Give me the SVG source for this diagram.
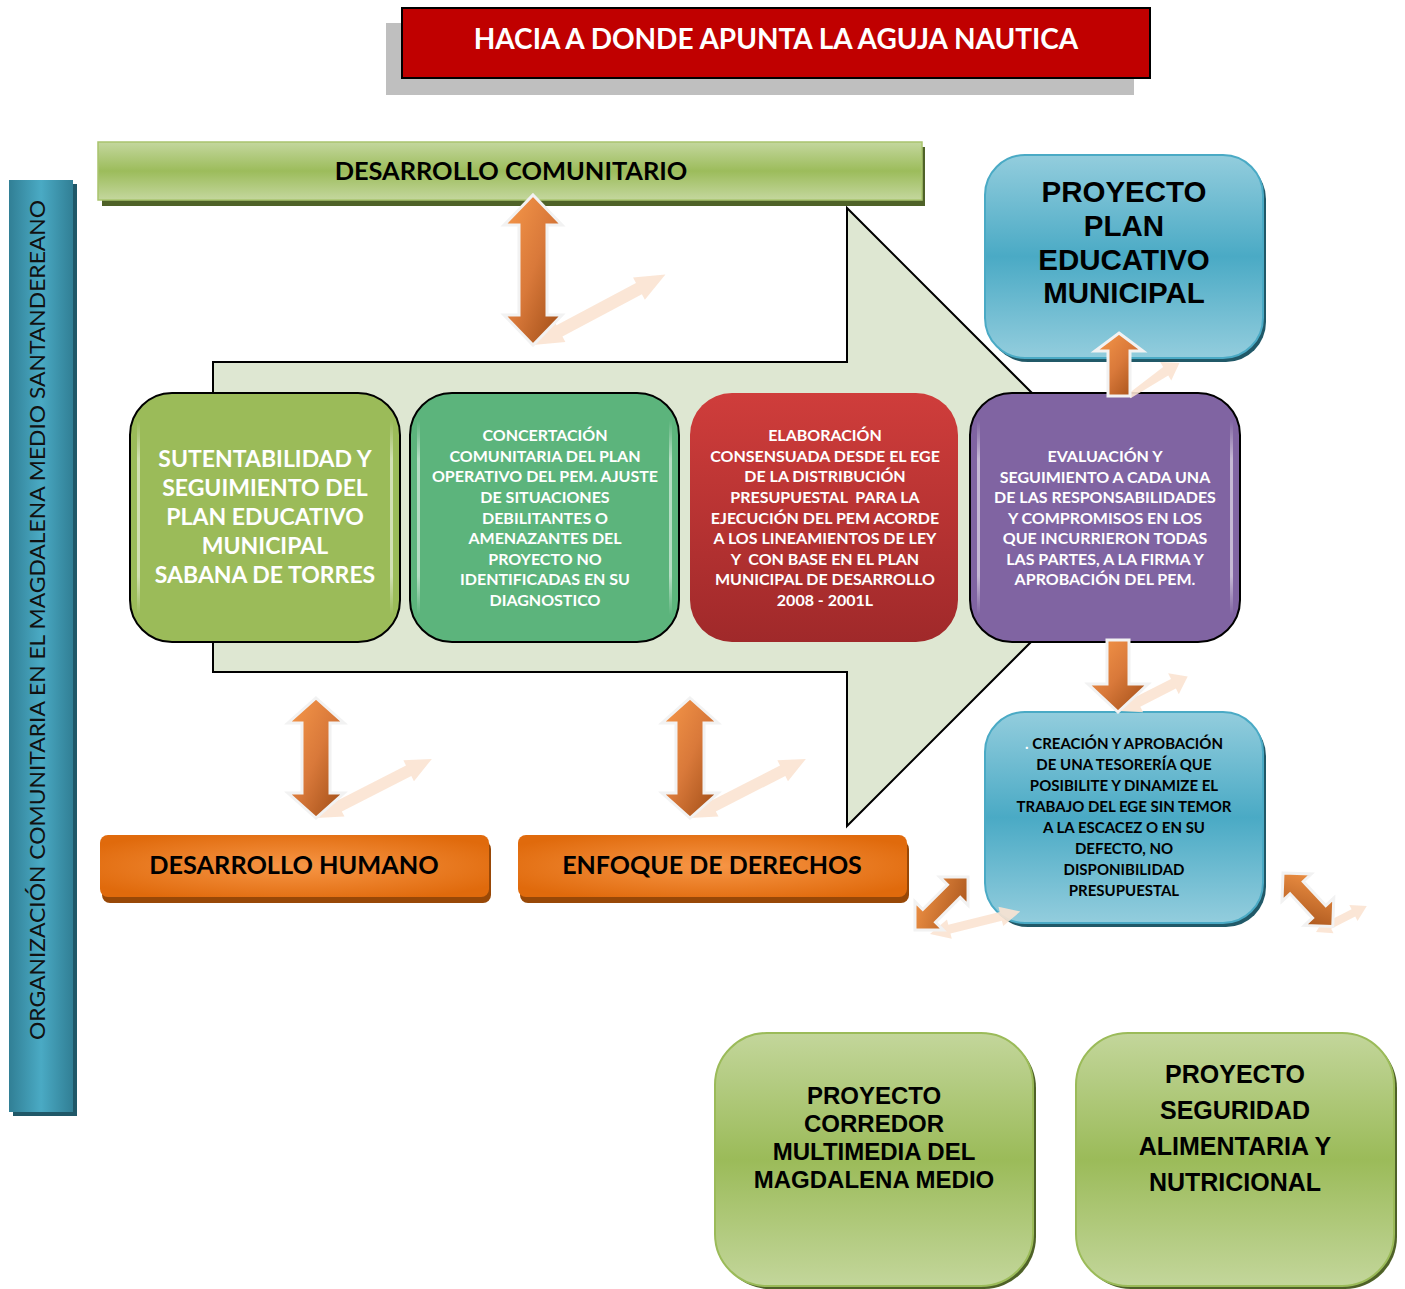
<svg xmlns="http://www.w3.org/2000/svg" width="1405" height="1289" viewBox="0 0 1405 1289">
<defs>
<style>
.c{font-family:Lato,"Open Sans","Liberation Sans",sans-serif;font-weight:bold;text-anchor:middle}
.a{font-family:"Liberation Sans",Arial,sans-serif;font-weight:bold;text-anchor:middle}
.w{fill:#ffffff}
.k{fill:#000000}
.arr{fill:url(#gArr);stroke:#f2f2f2;stroke-width:3;stroke-linejoin:miter}
.arrV{fill:url(#gArrV);stroke:#f2f2f2;stroke-width:3}
.sh{fill:#fbe3d2;opacity:0.9}
.hl{fill:url(#gHl)}
</style>
<linearGradient id="gArr" x1="0" y1="0" x2="1" y2="1"><stop offset="0" stop-color="#f8994a"/><stop offset="1" stop-color="#a24f18"/></linearGradient>
<linearGradient id="gArrV" x1="0" y1="0" x2="1" y2="1"><stop offset="0" stop-color="#f8994a"/><stop offset="0.5" stop-color="#d9793a"/><stop offset="1" stop-color="#9c4a14"/></linearGradient>
<linearGradient id="gHl" x1="0" y1="0" x2="0" y2="1"><stop offset="0" stop-color="#fff" stop-opacity="0"/><stop offset="0.2" stop-color="#fff" stop-opacity="0.55"/><stop offset="0.8" stop-color="#fff" stop-opacity="0.55"/><stop offset="1" stop-color="#fff" stop-opacity="0"/></linearGradient>
<linearGradient id="gGreenBar" x1="0" y1="0" x2="0" y2="1"><stop offset="0" stop-color="#c4d79e"/><stop offset="0.5" stop-color="#9cbc5b"/><stop offset="1" stop-color="#c4d79e"/></linearGradient>
<linearGradient id="gProj" x1="0" y1="0" x2="0" y2="1"><stop offset="0" stop-color="#c3d69b"/><stop offset="0.5" stop-color="#9bbb59"/><stop offset="1" stop-color="#c3d69b"/></linearGradient>
<linearGradient id="gBlue" x1="0" y1="0" x2="0" y2="1"><stop offset="0" stop-color="#93cddd"/><stop offset="0.5" stop-color="#4aaac5"/><stop offset="1" stop-color="#93cddd"/></linearGradient>
<linearGradient id="gTeal" x1="0" y1="0" x2="1" y2="0"><stop offset="0" stop-color="#317f95"/><stop offset="0.5" stop-color="#4aaac4"/><stop offset="1" stop-color="#317f95"/></linearGradient>
<radialGradient id="gOrange" cx="0.5" cy="0.5" r="0.6"><stop offset="0" stop-color="#f79646"/><stop offset="1" stop-color="#e06a0c"/></radialGradient>
<linearGradient id="gRed" x1="0" y1="0" x2="0" y2="1"><stop offset="0" stop-color="#cf3d3b"/><stop offset="1" stop-color="#a0292a"/></linearGradient>
</defs>
<rect x="0" y="0" width="1405" height="1289" fill="#ffffff"/>

<g id="title">
<rect x="386" y="23" width="748" height="72" fill="#bfbfbf"/>
<rect x="402" y="8" width="748" height="70" fill="#c00000" stroke="#000" stroke-width="2"/>
<text class="c w" x="776" y="49" font-size="28">HACIA A DONDE APUNTA LA AGUJA NAUTICA</text>
</g>

<g id="organizacion">
<rect x="13" y="184" width="64" height="932" fill="#205868"/>
<rect x="9" y="180" width="64" height="932" fill="url(#gTeal)"/>
<text class="c" x="45" y="620" font-size="22" style="font-weight:normal" fill="#111" transform="rotate(-90 45 620)" textLength="840" lengthAdjust="spacingAndGlyphs">ORGANIZACIÓN COMUNITARIA EN EL MAGDALENA MEDIO SANTANDEREANO</text>
</g>

<g id="desarrollo-comunitario">
<rect x="102" y="147" width="823" height="59" fill="#4f6228"/>
<rect x="98" y="142" width="824" height="58" fill="url(#gGreenBar)" stroke="#a9c46e" stroke-width="1.5"/>
<text class="c k" x="511" y="180" font-size="25.4">DESARROLLO COMUNITARIO</text>
</g>

<g id="flecha-principal">
<polygon points="213,362 847,362 847,208 1156,517 847,826 847,672 213,672" fill="#dee7d2" stroke="#000" stroke-width="2"/>
</g>

<g id="sutentabilidad">
<rect x="130" y="393" width="270" height="249" rx="42" fill="#9bbb59" stroke="#000" stroke-width="2"/>
<rect class="hl" x="137" y="420" width="3" height="195"/>
<rect class="hl" x="390" y="420" width="3" height="195"/>
<text class="c w" font-size="23"><tspan x="265" y="467">SUTENTABILIDAD Y</tspan><tspan x="265" y="496">SEGUIMIENTO DEL</tspan><tspan x="265" y="525">PLAN EDUCATIVO</tspan><tspan x="265" y="554">MUNICIPAL</tspan><tspan x="265" y="583">SABANA DE TORRES</tspan></text>
</g>

<g id="concertacion">
<rect x="410" y="393" width="269" height="249" rx="42" fill="#5cb47c" stroke="#000" stroke-width="2"/>
<rect class="hl" x="417" y="420" width="3" height="195"/>
<rect class="hl" x="669" y="420" width="3" height="195"/>
<text class="c w" font-size="16"><tspan x="545" y="441">CONCERTACIÓN</tspan><tspan x="545" y="462">COMUNITARIA DEL PLAN</tspan><tspan x="545" y="482">OPERATIVO DEL PEM. AJUSTE</tspan><tspan x="545" y="503">DE SITUACIONES</tspan><tspan x="545" y="524">DEBILITANTES O</tspan><tspan x="545" y="544">AMENAZANTES DEL</tspan><tspan x="545" y="565">PROYECTO NO</tspan><tspan x="545" y="585">IDENTIFICADAS EN SU</tspan><tspan x="545" y="606">DIAGNOSTICO</tspan></text>
</g>

<g id="elaboracion">
<rect x="690" y="393" width="268" height="249" rx="42" fill="url(#gRed)"/>
<text class="c w" font-size="16" xml:space="preserve"><tspan x="825" y="441">ELABORACIÓN</tspan><tspan x="825" y="462">CONSENSUADA DESDE EL EGE</tspan><tspan x="825" y="482">DE LA DISTRIBUCIÓN</tspan><tspan x="825" y="503">PRESUPUESTAL  PARA LA</tspan><tspan x="825" y="524">EJECUCIÓN DEL PEM ACORDE</tspan><tspan x="825" y="544">A LOS LINEAMIENTOS DE LEY</tspan><tspan x="825" y="565">Y  CON BASE EN EL PLAN</tspan><tspan x="825" y="585">MUNICIPAL DE DESARROLLO</tspan><tspan x="825" y="606">2008 - 2001L</tspan></text>
</g>

<g id="evaluacion">
<rect x="970" y="393" width="270" height="249" rx="42" fill="#8064a2" stroke="#000" stroke-width="2"/>
<rect class="hl" x="977" y="420" width="3" height="195"/>
<rect class="hl" x="1230" y="420" width="3" height="195"/>
<text class="c w" font-size="16"><tspan x="1105" y="462">EVALUACIÓN Y</tspan><tspan x="1105" y="483">SEGUIMIENTO A CADA UNA</tspan><tspan x="1105" y="503">DE LAS RESPONSABILIDADES</tspan><tspan x="1105" y="524">Y COMPROMISOS EN LOS</tspan><tspan x="1105" y="544">QUE INCURRIERON TODAS</tspan><tspan x="1105" y="565">LAS PARTES, A LA FIRMA Y</tspan><tspan x="1105" y="585">APROBACIÓN DEL PEM.</tspan></text>
</g>

<g id="pem">
<rect x="988" y="159" width="278" height="203" rx="40" fill="#215968"/>
<rect x="985" y="155" width="278" height="203" rx="40" fill="url(#gBlue)" stroke="#4aaac5" stroke-width="2"/>
<text class="a k" font-size="29.5"><tspan x="1124" y="202">PROYECTO</tspan><tspan x="1124" y="236">PLAN</tspan><tspan x="1124" y="270">EDUCATIVO</tspan><tspan x="1124" y="303">MUNICIPAL</tspan></text>
</g>

<g id="tesoreria">
<rect x="988" y="716" width="278" height="211" rx="40" fill="#215968"/>
<rect x="985" y="712" width="278" height="211" rx="40" fill="url(#gBlue)" stroke="#4aaac5" stroke-width="2"/>
<text class="c k" font-size="15"><tspan x="1124" y="749"><tspan fill="#fff">.</tspan> CREACIÓN Y APROBACIÓN</tspan><tspan x="1124" y="770">DE UNA TESORERÍA QUE</tspan><tspan x="1124" y="791">POSIBILITE Y DINAMIZE EL</tspan><tspan x="1124" y="812">TRABAJO DEL EGE SIN TEMOR</tspan><tspan x="1124" y="833">A LA ESCACEZ O EN SU</tspan><tspan x="1124" y="854">DEFECTO, NO</tspan><tspan x="1124" y="875">DISPONIBILIDAD</tspan><tspan x="1124" y="896">PRESUPUESTAL</tspan></text>
</g>

<g id="desarrollo-humano">
<rect x="102" y="841" width="389" height="62" rx="8" fill="#984807"/>
<rect x="100" y="835" width="389" height="62" rx="8" fill="url(#gOrange)"/>
<text class="c k" x="294" y="874" font-size="25.3">DESARROLLO HUMANO</text>
</g>

<g id="enfoque-derechos">
<rect x="520" y="841" width="389" height="62" rx="8" fill="#984807"/>
<rect x="518" y="835" width="389" height="62" rx="8" fill="url(#gOrange)"/>
<text class="c k" x="712" y="874" font-size="25">ENFOQUE DE DERECHOS</text>
</g>

<g id="corredor-multimedia">
<rect x="718" y="1036" width="318" height="253" rx="52" fill="#4f6228"/>
<rect x="715" y="1033" width="318" height="253" rx="52" fill="url(#gProj)" stroke="#9bbb59" stroke-width="2"/>
<text class="a k" font-size="24"><tspan x="874" y="1104">PROYECTO</tspan><tspan x="874" y="1132">CORREDOR</tspan><tspan x="874" y="1160">MULTIMEDIA DEL</tspan><tspan x="874" y="1188">MAGDALENA MEDIO</tspan></text>
</g>

<g id="seguridad-alimentaria">
<rect x="1079" y="1036" width="318" height="253" rx="52" fill="#4f6228"/>
<rect x="1076" y="1033" width="318" height="253" rx="52" fill="url(#gProj)" stroke="#9bbb59" stroke-width="2"/>
<text class="a k" font-size="25"><tspan x="1235" y="1083">PROYECTO</tspan><tspan x="1235" y="1119">SEGURIDAD</tspan><tspan x="1235" y="1155">ALIMENTARIA Y</tspan><tspan x="1235" y="1191">NUTRICIONAL</tspan></text>
</g>

<g id="connectors">
<polygon class="sh" transform="translate(533,345) rotate(-28) scale(1,0.45)" points="0,0 30,-28 30,-14 120,-14 120,-28 150,0 120,28 120,14 30,14 30,28"/>
<polygon class="sh" transform="translate(316,818) rotate(-27) scale(1,0.45)" points="0,0 26,-26 26,-13 104,-13 104,-26 130,0 104,26 104,13 26,13 26,26"/>
<polygon class="sh" transform="translate(690,818) rotate(-27) scale(1,0.45)" points="0,0 26,-26 26,-13 104,-13 104,-26 130,0 104,26 104,13 26,13 26,26"/>
<polygon class="sh" transform="translate(1128,394) rotate(-31) scale(1,0.45)" points="0,0 44,-11 44,-24 60,0 44,24 44,11 0,11"/>
<polygon class="sh" transform="translate(1120,711) rotate(-27) scale(1,0.45)" points="0,0 20,-26 20,-12 60,-12 60,-26 76,0 60,26 60,12 20,12 20,26"/>
<polygon class="sh" transform="translate(930,934) rotate(-14) scale(1,0.45)" points="0,0 20,-22 20,-10 73,-10 73,-22 93,0 73,22 73,10 20,10 20,22"/>
<polygon class="sh" transform="translate(1316,932) rotate(-27) scale(1,0.45)" points="0,0 15,-20 15,-9 42,-9 42,-20 57,0 42,20 42,9 15,9 15,20"/>
<polygon class="arrV" points="533,195 562,225 547,225 547,315 562,315 533,345 504,315 519,315 519,225 504,225"/>
<polygon class="arrV" points="316,698 344,723 330,723 330,793 344,793 316,818 288,793 302,793 302,723 288,723"/>
<polygon class="arrV" points="690,698 718,723 704,723 704,793 718,793 690,818 662,793 676,793 676,723 662,723"/>
<polygon class="arrV" points="1119,333 1143,351 1130,351 1130,396 1108,396 1108,351 1095,351"/>
<polygon class="arrV" points="1107,640 1129,640 1129,684 1148,684 1118,712 1088,684 1107,684"/>
<polygon class="arr" transform="translate(915,930) rotate(-45)" points="0,0 20,-20 20,-9 55,-9 55,-20 75,0 55,20 55,9 20,9 20,20"/>
<polygon class="arr" transform="translate(1283,873) rotate(47)" points="0,0 20,-20 20,-9 53,-9 53,-20 73,0 53,20 53,9 20,9 20,20"/>
</g>
</svg>
